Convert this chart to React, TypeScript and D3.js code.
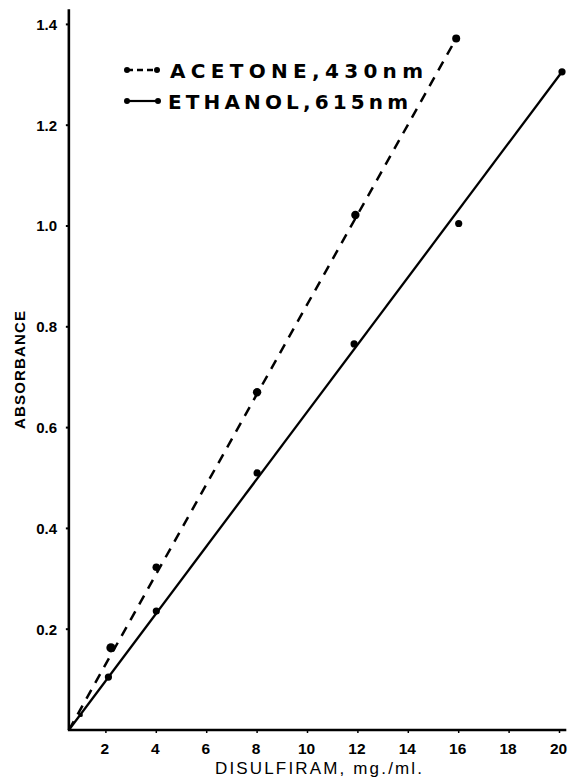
import React from "react";
import * as d3 from "d3";

const W = 570;
const H = 777;

const xTicks = [2, 4, 6, 8, 10, 12, 14, 16, 18, 20];
const yTicks = [0.2, 0.4, 0.6, 0.8, 1.0, 1.2, 1.4];
const yTickLabels = ["0.2", "0.4", "0.6", "0.8", "1.0", "1.2", "1.4"];

const origin = [0.53, 0];

const acetoneX = [1.0, 2.2, 4.0, 8.0, 11.9, 15.9];
const acetoneY = [0.03, 0.163, 0.323, 0.67, 1.022, 1.372];
const acetoneSize = [2.2, 4.6, 3.8, 4.2, 4.2, 4.0];

const ethanolX = [2.1, 4.0, 8.0, 11.85, 16.0, 20.1];
const ethanolY = [0.105, 0.236, 0.51, 0.766, 1.005, 1.306];

const legendLabels = ["ACETONE,430nm", "ETHANOL,615nm"];

export default function App() {
  const x = d3.scaleLinear().domain([0, 20]).range([55.5, 559.5]);
  const y = d3.scaleLinear().domain([0, 1.4]).range([730, 24.4]);
  const xMin = origin[0];
  const xMax = 20.27;
  const yMax = 1.43;

  const line = d3
    .line<[number, number]>()
    .x((d) => x(d[0]))
    .y((d) => y(d[1]));

  const acePts: [number, number][] = [
    [origin[0], origin[1]],
    ...acetoneX.map((v, i) => [v, acetoneY[i]] as [number, number]),
  ];
  const ethPts: [number, number][] = [
    [origin[0], origin[1]],
    ...ethanolX.map((v, i) => [v, ethanolY[i]] as [number, number]),
  ];
  const aceLine: [number, number][] = [acePts[0], acePts[acePts.length - 1]];
  const ethLine: [number, number][] = [ethPts[0], ethPts[ethPts.length - 1]];

  const font = "'Liberation Sans', Arial, sans-serif";

  return (
    <div style={{ position: "absolute", left: 0, top: 0 }}>
      <svg width={W} height={H} style={{ display: "block", background: "#fff" }}>
        <line x1={x(xMin)} y1={y(0)} x2={x(xMin)} y2={y(yMax)} stroke="#000" strokeWidth={2.6} />
        <line x1={x(xMin) - 1} y1={y(0)} x2={x(xMax)} y2={y(0)} stroke="#000" strokeWidth={2.6} />
        {yTicks.map((t, i) => (
          <g key={"yt" + i}>
            <line x1={x(xMin) - 3} x2={x(xMin)} y1={y(t)} y2={y(t)} stroke="#000" strokeWidth={2} />
            <text
              x={57}
              y={y(t)}
              dy="0.36em"
              textAnchor="end"
              fontFamily={font}
              fontWeight="bold"
              fontSize={15}
            >
              {yTickLabels[i]}
            </text>
          </g>
        ))}
        {xTicks.map((t) => (
          <g key={"xt" + t}>
            <line x1={x(t)} x2={x(t)} y1={y(0)} y2={y(0) + 3} stroke="#000" strokeWidth={1.5} />
            <text
              x={x(t) - 1}
              y={754}
              textAnchor="middle"
              fontFamily={font}
              fontWeight="bold"
              fontSize={15.5}
            >
              {t}
            </text>
          </g>
        ))}
        <text
          x={215}
          y={774}
          fontFamily={font}
          fontSize={17}
          textLength={207}
          lengthAdjust="spacing"
        >
          DISULFIRAM, mg./ml.
        </text>
        <text
          transform={`translate(20,370) rotate(-90)`}
          textAnchor="middle"
          dy="0.36em"
          fontFamily={font}
          fontWeight="bold"
          fontSize={15}
          textLength={118}
          lengthAdjust="spacing"
        >
          ABSORBANCE
        </text>

        <path
          d={line(aceLine) || ""}
          fill="none"
          stroke="#000"
          strokeWidth={2.5}
          strokeDasharray="10 8"
        />
        <path d={line(ethLine) || ""} fill="none" stroke="#000" strokeWidth={2.3} />

        {acetoneX.map((v, i) => (
          <circle key={"a" + i} cx={x(v)} cy={y(acetoneY[i])} r={acetoneSize[i]} fill="#000" />
        ))}
        {ethanolX.map((v, i) => (
          <circle key={"e" + i} cx={x(v)} cy={y(ethanolY[i])} r={3.6} fill="#000" />
        ))}

        <g>
          <line x1={127} x2={157} y1={70} y2={70} stroke="#000" strokeWidth={2.4} strokeDasharray="6 4" />
          <circle cx={127} cy={70} r={3} fill="#000" />
          <circle cx={157} cy={70} r={3} fill="#000" />
          <text
            x={170}
            y={78}
            fontFamily="'DejaVu Sans', sans-serif"
            fontWeight="bold"
            fontSize={20}
            textLength={253}
            lengthAdjust="spacing"
          >
            {legendLabels[0]}
          </text>
          <line x1={127} x2={158} y1={101} y2={101} stroke="#000" strokeWidth={2.2} />
          <circle cx={127} cy={101} r={3} fill="#000" />
          <circle cx={158} cy={101} r={3} fill="#000" />
          <text
            x={168}
            y={109}
            fontFamily="'DejaVu Sans', sans-serif"
            fontWeight="bold"
            fontSize={20}
            textLength={240}
            lengthAdjust="spacing"
          >
            {legendLabels[1]}
          </text>
        </g>
      </svg>
    </div>
  );
}
